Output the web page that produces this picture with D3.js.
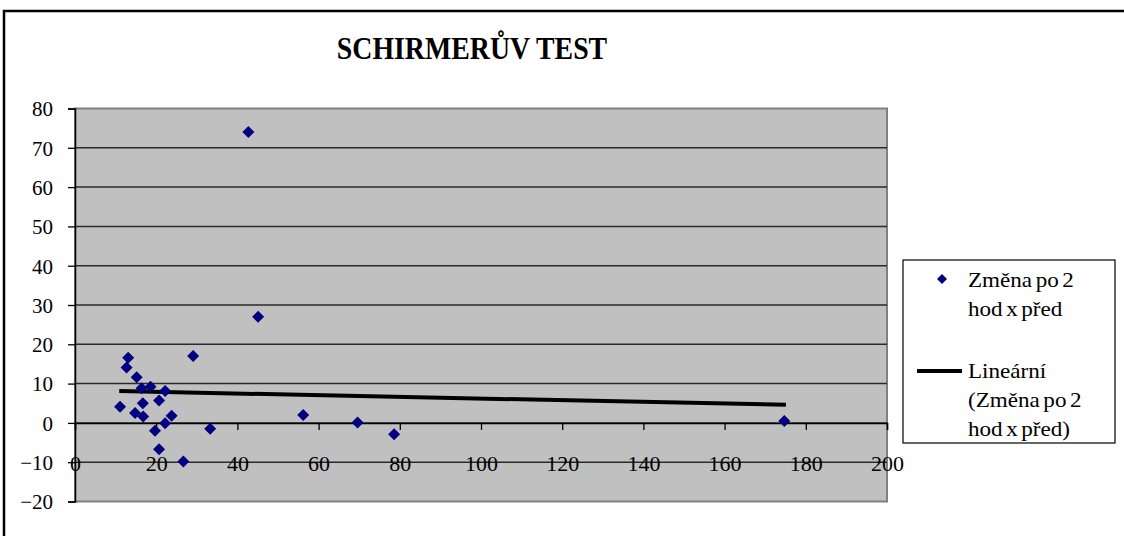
<!DOCTYPE html>
<html><head><meta charset="utf-8">
<script src="https://cdn.jsdelivr.net/npm/d3@7"></script>
<style>body{margin:0;background:#fff}svg{display:block}</style>
</head><body>
<script>
// Data
const xValues = [13.1,12.7,15.2,16.4,18.6,22.2,11.1,16.7,20.7,14.8,16.8,23.8,22.2,19.7,20.7,26.7,29.1,33.3,42.7,45.1,56.2,69.6,78.6,174.7];
const yValues = [16.6,14.1,11.6,8.8,9.2,8.1,4.1,5.0,5.7,2.5,1.6,1.8,-0.1,-2.0,-6.7,-9.8,17.0,-1.5,74.0,27.0,2.0,0.1,-2.9,0.5];
const trendX = [10.9, 175.1];
const trendY = [8.1, 4.6];
const xTicks = [0,20,40,60,80,100,120,140,160,180,200];
const yTicks = [-20,-10,0,10,20,30,40,50,60,70,80];
const titleText = "SCHIRMERŮV TEST";
const legendSeries = ["Změna po 2", "hod x před"];
const legendTrend = ["Lineární", "(Změna po 2", "hod x před)"];

const W = 1124, H = 536;
const svg = d3.select("body").append("svg").attr("width", W).attr("height", H);
const font = "'Liberation Serif','Times New Roman',serif";

// chart frame
svg.append("rect").attr("x",4).attr("y",11).attr("width",1140).attr("height",560)
  .attr("fill","#fff").attr("stroke","#000").attr("stroke-width",2.5);

// title
svg.append("text").attr("transform","translate(472,48) scale(0.96,1.12)")
  .attr("text-anchor","middle").attr("dominant-baseline","central")
  .attr("font-family",font).attr("font-weight","bold").attr("font-size",29)
  .text(titleText);

const x = d3.scaleLinear().domain([0,200]).range([75,887]);
const y = d3.scaleLinear().domain([-20,80]).range([501.5,108.5]);

// plot area
svg.append("rect").attr("x",x(0)).attr("y",y(80)).attr("width",x(200)-x(0)).attr("height",y(-20)-y(80))
  .attr("fill","#c0c0c0").attr("stroke","#808080").attr("stroke-width",2);

// gridlines
svg.append("g").selectAll("line").data(yTicks.filter(t=>t>-20 && t<80)).join("line")
  .attr("x1",x(0)).attr("x2",x(200)).attr("y1",d=>y(d)).attr("y2",d=>y(d))
  .attr("stroke","#2a2a2a").attr("stroke-width",1.5);

// y axis
const yAxis = svg.append("g").attr("transform",`translate(${x(0)},0)`)
  .call(d3.axisLeft(y).tickValues(yTicks).tickSize(7).tickPadding(15).tickFormat(d3.format("d")));
yAxis.select(".domain").attr("stroke","#000").attr("stroke-width",1.5);
yAxis.selectAll(".tick line").attr("stroke","#000").attr("stroke-width",1.3);
yAxis.selectAll("text").attr("font-family",font).attr("font-size",21).attr("fill","#000")
  .attr("dy","0.35em");

// x axis at y=0
const xAxis = svg.append("g").attr("transform",`translate(0,${y(0)})`)
  .call(d3.axisBottom(x).tickValues(xTicks).tickSize(7).tickPadding(25).tickFormat(d3.format("d")));
xAxis.select(".domain").attr("stroke","#000").attr("stroke-width",1.5);
xAxis.selectAll(".tick line").attr("stroke","#000").attr("stroke-width",1.3);
xAxis.selectAll("text").attr("font-family",font).attr("font-size",22).attr("fill","#000");

// trend line
svg.append("line").attr("x1",x(trendX[0])).attr("y1",y(trendY[0]))
  .attr("x2",x(trendX[1])).attr("y2",y(trendY[1]))
  .attr("stroke","#000").attr("stroke-width",4);

// points
const diamond = "M0,-6L6,0L0,6L-6,0Z";
svg.append("g").selectAll("path").data(xValues.map((v,i)=>[v,yValues[i]])).join("path")
  .attr("d",diamond).attr("transform",d=>`translate(${x(d[0])},${y(d[1])})`)
  .attr("fill","#000080");

// legend
const lg = svg.append("g");
lg.append("rect").attr("x",903).attr("y",260).attr("width",212).attr("height",183)
  .attr("fill","#fff").attr("stroke","#000").attr("stroke-width",1.2);
lg.append("path").attr("d","M0,-5L5,0L0,5L-5,0Z").attr("transform","translate(942,279)").attr("fill","#000080");
const lt = (s,yy)=>lg.append("text").attr("transform",`translate(968,${yy}) scale(1.1,1)`)
  .attr("dominant-baseline","central").attr("font-family",font).attr("font-size",21)
  .attr("word-spacing",-2).text(s);
legendSeries.forEach((s,i)=>lt(s,280+i*29));
lg.append("line").attr("x1",917).attr("x2",962).attr("y1",371).attr("y2",371).attr("stroke","#000").attr("stroke-width",4);
legendTrend.forEach((s,i)=>lt(s,371+i*29));
</script>
</body></html>
